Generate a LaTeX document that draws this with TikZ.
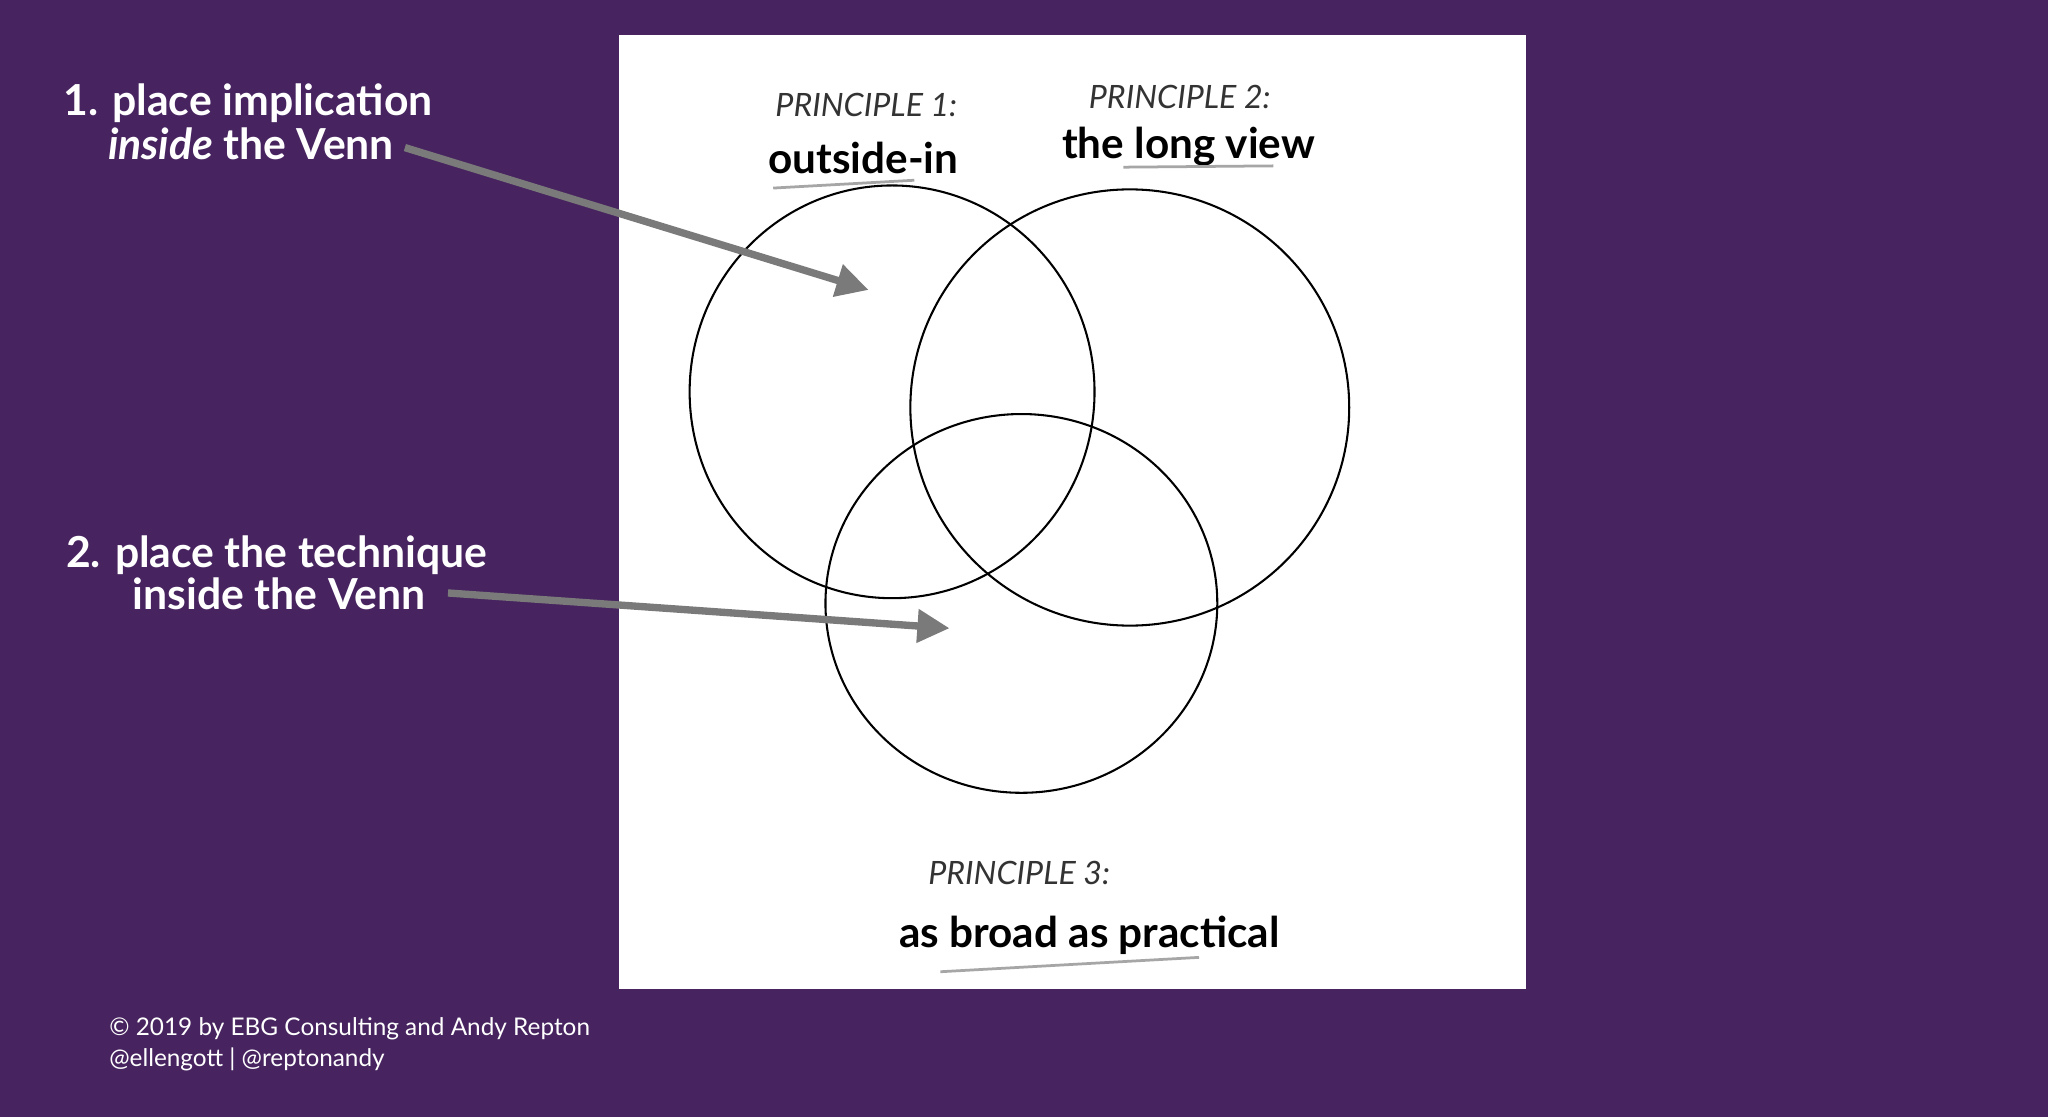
\documentclass[tikz,border=0pt]{standalone}
\usepackage{fontspec}
\setmainfont{Lato}
\usetikzlibrary{arrows.meta}
\definecolor{bgp}{HTML}{47245F}
\definecolor{arr}{HTML}{7A7A7A}
\begin{document}
\begin{tikzpicture}[x=0.01cm,y=-0.01cm,
  head/.style={text=white,font=\bfseries\fontsize{9.3}{10}\selectfont,inner sep=0pt},
  lab/.style={text=black,font=\bfseries\fontsize{9.2}{10}\selectfont,inner sep=0pt},
  hand/.style={text=black!80,font=\itshape\fontsize{7}{8}\selectfont,inner sep=0pt},
  circ/.style={draw=black,line width=0.45pt},
  garrow/.style={draw=arr,line width=1.6pt,-{Triangle[length=7pt,width=7pt]}},
  uline/.style={draw=gray!70,line width=0.6pt}]
\fill[bgp] (0,0) rectangle (1568,855);
\useasboundingbox (0,0) rectangle (1568,855);
\fill[white] (474,27) rectangle (1168,757);
% circles
\draw[circ] (683,300) ellipse [x radius=155,y radius=158];
\draw[circ] (865,312) ellipse [x radius=168,y radius=167];
\draw[circ] (782,462) ellipse [x radius=150,y radius=145];
% labels
\node[hand,anchor=west] (p1) at (593,80) {PRINCIPLE 1:};
\node[lab] (l1) at (661,121) {outside-in};
\node[hand,anchor=west] (p2) at (833,74) {PRINCIPLE 2:};
\node[lab] (l2) at (910,112) {the long view};
\node[hand,anchor=west] (p3) at (710,668) {PRINCIPLE 3:};
\node[lab] (l3) at (834,716) {as broad as practical};
\draw[uline] (592,144) -- (700,138);
\draw[uline] (860,128) -- (975,127);
\draw[uline] (720,744) -- (918,733);
% left texts
\node[head,anchor=west] (t1) at (48,79) {1. place implication};
\node[head,anchor=west] (t1b) at (82,110) {\textit{inside} the Venn};
\node[head,anchor=west] (t2) at (50,425) {2. place the technique};
\node[head,anchor=west] (t2b) at (101,455) {inside the Venn};
\coordinate (s1) at (310,113);
\coordinate (s2) at (343,454);
\coordinate (a1) at (665,222);
\coordinate (a2) at (727,481);
\draw[garrow] (s1) -- (a1);
\draw[garrow] (s2) -- (a2);
\node[text=white,font=\fontsize{5.3}{6.8}\selectfont,anchor=north west,align=left,inner sep=0pt] (c) at (83,778) {© 2019 by EBG Consulting and Andy Repton\\@ellengott | @reptonandy};
\end{tikzpicture}
\end{document}
